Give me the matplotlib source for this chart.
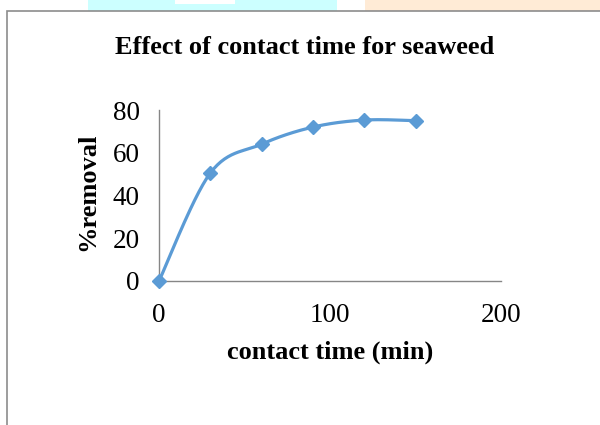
import numpy as np
import matplotlib.pyplot as plt
from matplotlib.patches import Rectangle

# data
contact_time = [0, 30, 60, 90, 120, 150]
removal = [0, 50.5, 64, 72, 75.3, 75]
x_ticks = [0, 100, 200]
y_ticks = [0, 20, 40, 60, 80]


def smooth_curve(x, y, n=30):
    # Excel-style smoothed line (Catmull-Rom through the points)
    x = np.asarray(x, float)
    y = np.asarray(y, float)
    px = np.concatenate([[x[0]], x, [x[-1]]])
    py = np.concatenate([[y[0]], y, [y[-1]]])
    xs, ys = [], []
    t = np.linspace(0, 1, n)
    for i in range(1, len(px) - 2):
        p0, p1, p2, p3 = [np.array([px[j], py[j]]) for j in range(i - 1, i + 3)]
        c1 = p1 + (p2 - p0) / 6
        c2 = p2 - (p3 - p1) / 6
        b = ((1 - t) ** 3)[:, None] * p1 + (3 * (1 - t) ** 2 * t)[:, None] * c1 \
            + (3 * (1 - t) * t ** 2)[:, None] * c2 + (t ** 3)[:, None] * p2
        xs.extend(b[:, 0])
        ys.extend(b[:, 1])
    return np.array(xs), np.array(ys)


plt.rcParams['font.family'] = ['Liberation Serif', 'DejaVu Serif']

fig = plt.figure(figsize=(6, 4.25), dpi=100)

# watermark strip at the top and the chart frame
fig.patches.append(Rectangle((88 / 600, 1 - 11 / 425), 249 / 600, 11 / 425,
                             transform=fig.transFigure, color='#ccffff', lw=0))
fig.patches.append(Rectangle((175 / 600, 1 - 4 / 425), 60 / 600, 4 / 425,
                             transform=fig.transFigure, color='white', lw=0))
fig.patches.append(Rectangle((365 / 600, 1 - 11 / 425), 235 / 600, 11 / 425,
                             transform=fig.transFigure, color='#ffebd6', lw=0))
fig.patches.append(Rectangle((7 / 600, -0.1), 1.2, 1.1 - 11 / 425,
                             transform=fig.transFigure, fill=False,
                             edgecolor='#8c8c8c', lw=1.2))

ax = fig.add_axes([159 / 600, 1 - 281 / 425, 342 / 600, 171 / 425])

sx, sy = smooth_curve(contact_time, removal)
ax.plot(sx, sy, color='#5b9bd5', lw=2.3, zorder=3)
ax.plot(contact_time, removal, 'D', color='#5b9bd5', markersize=7, zorder=4, clip_on=False)

ax.set_xlim(0, 200)
ax.set_ylim(0, 80)
ax.set_xticks(x_ticks)
ax.set_yticks(y_ticks)
ax.tick_params(length=0, labelsize=19.5)
ax.tick_params(axis='x', pad=16)
ax.tick_params(axis='y', pad=14)

for side in ['top', 'right']:
    ax.spines[side].set_visible(False)
for side in ['left', 'bottom']:
    ax.spines[side].set_color('#868686')
    ax.spines[side].set_linewidth(1)

ax.set_xlabel('contact time (min)', fontsize=19, fontweight='bold', labelpad=9)
ax.set_ylabel('%removal', fontsize=19, fontweight='bold')
ax.yaxis.set_label_coords(-0.175, 0.52)

fig.text(305 / 600, 1 - 47 / 425, 'Effect of contact time for seaweed',
         ha='center', va='center', fontsize=19, fontweight='bold')

fig.savefig('out.png', dpi=100)
